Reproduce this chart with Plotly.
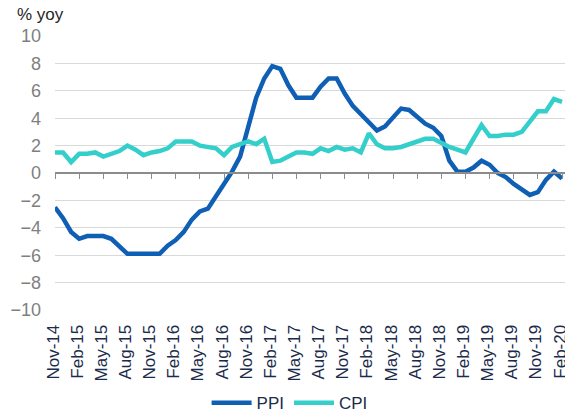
import pandas as pd
import plotly.graph_objects as go

# Monthly categories Nov-14 .. Feb-20
months = pd.date_range("2014-11-01", "2020-02-01", freq="MS").strftime("%b-%y").tolist()

ppi = [
    -2.5, -3.3,                                                       # Nov-14, Dec-14
    -4.3, -4.8, -4.6, -4.6, -4.6, -4.8, -5.4, -5.9, -5.9, -5.9, -5.9, -5.9,  # 2015
    -5.3, -4.9, -4.3, -3.4, -2.8, -2.6, -1.7, -0.8, 0.1, 1.2, 3.3, 5.5,      # 2016
    6.9, 7.8, 7.6, 6.4, 5.5, 5.5, 5.5, 6.3, 6.9, 6.9, 5.8, 4.9,              # 2017
    4.3, 3.7, 3.1, 3.4, 4.1, 4.7, 4.6, 4.1, 3.6, 3.3, 2.7, 0.9,              # 2018
    0.1, 0.1, 0.4, 0.9, 0.6, 0.0, -0.3, -0.8, -1.2, -1.6, -1.4, -0.5,        # 2019
    0.1, -0.4,                                                        # 2020
]
cpi = [
    1.5, 1.5,
    0.8, 1.4, 1.4, 1.5, 1.2, 1.4, 1.6, 2.0, 1.7, 1.3, 1.5, 1.6,
    1.8, 2.3, 2.3, 2.3, 2.0, 1.9, 1.8, 1.3, 1.9, 2.1, 2.3, 2.1,
    2.5, 0.8, 0.9, 1.2, 1.5, 1.5, 1.4, 1.8, 1.6, 1.9, 1.7, 1.8,
    1.5, 2.9, 2.1, 1.8, 1.8, 1.9, 2.1, 2.3, 2.5, 2.5, 2.2, 1.9,
    1.7, 1.5, 2.5, 3.5, 2.7, 2.7, 2.8, 2.8, 3.0, 3.8, 4.5, 4.5,
    5.4, 5.2,
]
y_ticks = list(range(-10, 11, 2))

x = list(range(len(months)))
tick_idx = x[::3]
tick_txt = [months[i] for i in tick_idx]

FONT = "Arial, Liberation Sans, sans-serif"
PPI_COL = "#0f5fb5"
CPI_COL = "#35cfcb"
NAVY = "#1b2b4b"
XR = [0, 63.37]

fig = go.Figure()
fig.add_trace(go.Scatter(x=x, y=ppi, mode="lines", name="PPI",
                         line=dict(color=PPI_COL, width=4.5)))
fig.add_trace(go.Scatter(x=x, y=cpi, mode="lines", name="CPI",
                         line=dict(color=CPI_COL, width=4.5)))
# invisible trace so the zero-line axis (x2) is drawn
fig.add_trace(go.Scatter(x=[0], y=[0], xaxis="x2", mode="lines", showlegend=False,
                         hoverinfo="skip", line=dict(color="rgba(0,0,0,0)")))

fig.update_layout(
    width=565, height=415,
    margin=dict(l=55, r=0, t=36, b=105, autoexpand=False),
    paper_bgcolor="white", plot_bgcolor="white",
    font=dict(family=FONT, size=17, color=NAVY),
    showlegend=True,
    legend=dict(orientation="h", x=0.46, xanchor="center", y=-0.34, yanchor="middle",
                font=dict(family=FONT, size=17, color=NAVY), itemwidth=40,
                bgcolor="rgba(0,0,0,0)"),
    xaxis=dict(range=XR, autorange=False, tickmode="array", tickvals=tick_idx, ticktext=tick_txt,
               tickangle=-90, showgrid=False, showline=False, zeroline=False, automargin=False,
               ticks="outside", ticklen=7, tickcolor="rgba(0,0,0,0)",
               ticklabeloverflow="allow", ticklabelshift=-2,
               tickfont=dict(family=FONT, size=17, color=NAVY)),
    xaxis2=dict(range=XR, autorange=False, overlaying="x", anchor="free", position=0.5,
                tickmode="array", tickvals=tick_idx, showticklabels=False, automargin=False,
                showline=True, linecolor="#8c8c8c", linewidth=1.5,
                ticks="outside", ticklen=5, tickwidth=1.2, tickcolor="#8c8c8c",
                showgrid=False, zeroline=False),
    yaxis=dict(range=[-10, 10], autorange=False, tickmode="array", tickvals=y_ticks,
               showgrid=True, gridcolor="#d9d9d9", gridwidth=1.2, automargin=False,
               zeroline=False, showline=False, ticks="", ticklabelstandoff=13,
               tickfont=dict(family=FONT, size=18, color="#7f7f7f")),
    annotations=[dict(text="% yoy", xref="paper", yref="paper",
                      x=-0.078, y=1.08, xanchor="left", yanchor="middle",
                      showarrow=False, font=dict(family=FONT, size=17, color="#262626"))],
)

fig.write_html(
    "out.html",
    config={"displayModeBar": False},
    post_script="document.body.style.margin='0';document.body.style.overflow='hidden';",
)
